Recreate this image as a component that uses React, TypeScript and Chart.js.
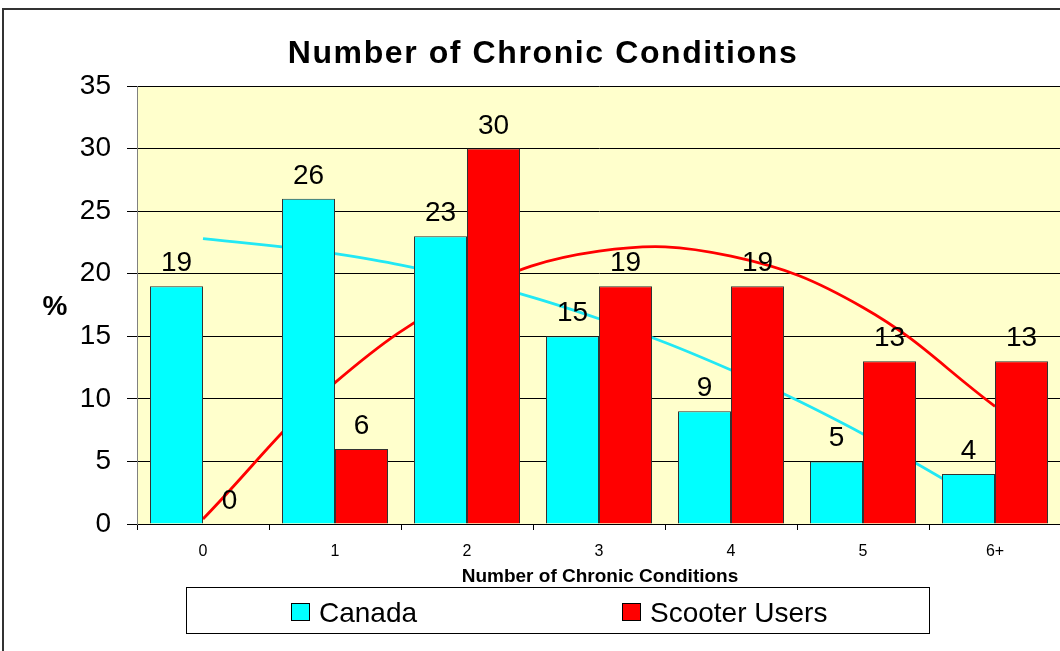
import React, { useEffect, useRef } from "react";
import { Chart, registerables } from "chart.js";

Chart.register(...registerables);

const categories = ["0", "1", "2", "3", "4", "5", "6+"];
const canadaValues = [19, 26, 23, 15, 9, 5, 4];
const scooterValues = [0, 6, 30, 19, 19, 13, 13];
// trendline values at each category centre
const canadaTrend = [22.8, 21.6, 19.5, 16.4, 12.3, 7.2, 1.2];
const scooterTrend = [0.4, 11.3, 18.4, 21.8, 21.4, 17.3, 9.4];
const yTicks = [0, 5, 10, 15, 20, 25, 30, 35];

const titleText = "Number of Chronic Conditions";
const xTitleText = "Number of Chronic Conditions";
const yTitleText = "%";
const seriesNames = ["Canada", "Scooter Users"];

const FONT = "'Liberation Sans', Arial, sans-serif";

const decorPlugin = {
  id: "decor",
  beforeDraw(chart: any) {
    const { ctx, chartArea } = chart;
    ctx.save();
    ctx.fillStyle = "#ffffff";
    ctx.fillRect(0, 0, chart.width, chart.height);
    ctx.fillStyle = "#FFFFCC";
    ctx.fillRect(chartArea.left, chartArea.top, chartArea.right - chartArea.left, chartArea.bottom - chartArea.top);
    ctx.restore();
  },
  afterDraw(chart: any) {
    const { ctx } = chart;
    ctx.save();
    // outer frame
    ctx.strokeStyle = "#333333";
    ctx.lineWidth = 2;
    ctx.strokeRect(3, 9, 1200, 800);

    // title
    ctx.fillStyle = "#000";
    ctx.font = `bold 32px ${FONT}`;
    (ctx as any).letterSpacing = "1.6px";
    ctx.textAlign = "center";
    ctx.textBaseline = "alphabetic";
    ctx.fillText(titleText, 543, 63);
    (ctx as any).letterSpacing = "0px";

    // y title
    ctx.font = `bold 28px ${FONT}`;
    ctx.textAlign = "center";
    ctx.fillText(yTitleText, 55, 315);

    // x title
    ctx.font = `bold 19px ${FONT}`;
    ctx.fillText(xTitleText, 600, 582);

    // legend
    ctx.fillStyle = "#fff";
    ctx.fillRect(186.5, 587.5, 743, 46);
    ctx.strokeStyle = "#000";
    ctx.lineWidth = 1;
    ctx.strokeRect(186.5, 587.5, 743, 46);
    const items = [
      { x: 291, color: "#00FFFF", label: seriesNames[0] },
      { x: 622, color: "#FF0000", label: seriesNames[1] },
    ];
    items.forEach((it) => {
      ctx.fillStyle = it.color;
      ctx.fillRect(it.x + 0.5, 603.5, 18, 17);
      ctx.strokeStyle = "#000";
      ctx.strokeRect(it.x + 0.5, 603.5, 18, 17);
      ctx.fillStyle = "#000";
      ctx.font = `28px ${FONT}`;
      ctx.textAlign = "left";
      ctx.fillText(it.label, it.x + 28, 622);
    });

    // value labels
    ctx.font = `28px ${FONT}`;
    ctx.textAlign = "center";
    ctx.fillStyle = "#000";
    chart.data.datasets.forEach((ds: any, i: number) => {
      if (ds.type !== "bar") return;
      const meta = chart.getDatasetMeta(i);
      meta.data.forEach((bar: any, j: number) => {
        ctx.fillText(String(ds.data[j]), bar.x, bar.y - 15);
      });
    });
    ctx.restore();
  },
};

export default function App() {
  const ref = useRef<HTMLCanvasElement | null>(null);
  useEffect(() => {
    if (!ref.current) return;
    const chart = new Chart(ref.current, {
      type: "bar",
      data: {
        labels: categories,
        datasets: [
          {
            type: "line" as const,
            label: "Canada trend",
            data: canadaTrend,
            borderColor: "#22E8F4",
            borderWidth: 2.8,
            pointRadius: 0,
            tension: 0.4,
            fill: false,
            order: 3,
          },
          {
            type: "line" as const,
            label: "Scooter trend",
            data: scooterTrend,
            borderColor: "#FF0000",
            borderWidth: 2.8,
            pointRadius: 0,
            tension: 0.4,
            fill: false,
            order: 3,
          },
          {
            type: "bar" as const,
            label: seriesNames[0],
            data: canadaValues,
            backgroundColor: "#00FFFF",
            borderColor: "#333333",
            borderWidth: 1,
            categoryPercentage: 0.803,
            barPercentage: 1.0,
            order: 1,
          },
          {
            type: "bar" as const,
            label: seriesNames[1],
            data: scooterValues,
            backgroundColor: "#FF0000",
            borderColor: "#333333",
            borderWidth: 1,
            categoryPercentage: 0.803,
            barPercentage: 1.0,
            order: 1,
          },
        ],
      } as any,
      options: {
        animation: false,
        responsive: false,
        maintainAspectRatio: false,
        layout: { padding: { top: 86, right: 0, bottom: 0, left: 0 } },
        plugins: {
          legend: { display: false },
          title: { display: false },
          tooltip: { enabled: false },
        },
        scales: {
          x: {
            afterFit: (s: any) => {
              s.height = 127;
            },
            grid: {
              offset: true,
              drawOnChartArea: false,
              drawTicks: true,
              tickLength: 6,
              color: "#000",
            },
            border: { color: "#000", width: 1 },
            ticks: {
              color: "#000",
              font: { family: FONT, size: 16 },
              padding: 12,
              maxRotation: 0,
            },
          },
          y: {
            min: 0,
            max: 35,
            afterFit: (s: any) => {
              s.width = 137;
            },
            afterBuildTicks: (s: any) => {
              s.ticks = yTicks.map((v) => ({ value: v }));
            },
            grid: {
              color: "#000",
              drawTicks: true,
              tickLength: 10,
              tickColor: "#000",
            },
            border: { color: "#808080", width: 1 },
            ticks: {
              color: "#000",
              font: { family: FONT, size: 28 },
              padding: 16,
            },
          },
        },
      },
      plugins: [decorPlugin],
    });
    return () => chart.destroy();
  }, []);
  return (
    <div style={{ position: "absolute", left: 0, top: 0, width: 1060, height: 651, overflow: "hidden" }}>
      <canvas ref={ref} width={1061} height={651} style={{ width: 1061, height: 651, display: "block" }} />
    </div>
  );
}
